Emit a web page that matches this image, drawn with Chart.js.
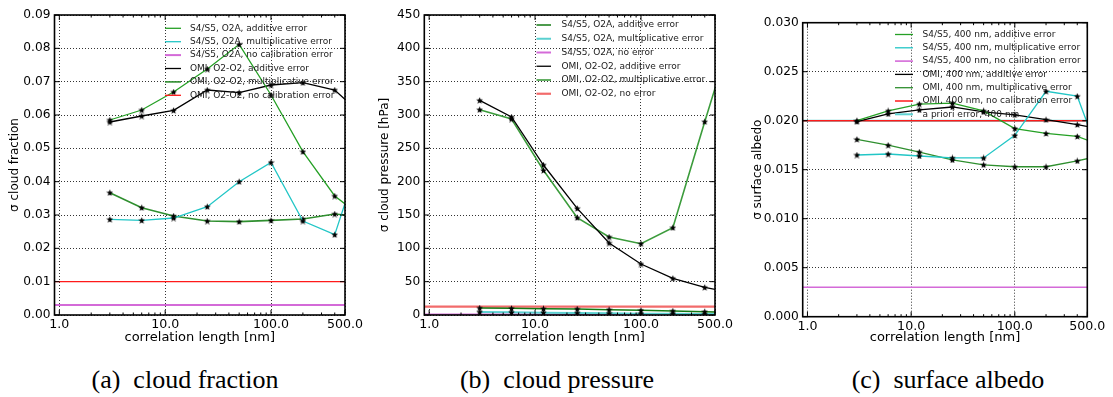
<!DOCTYPE html>
<html>
<head>
<meta charset="utf-8">
<script src="https://cdn.jsdelivr.net/npm/chart.js@4.4.1/dist/chart.umd.min.js"></script>
<style>
  html, body { margin: 0; padding: 0; background: #fff; }
  body { width: 1113px; height: 397px; position: relative; overflow: hidden; }
  canvas.panel { position: absolute; top: 0; }
  .caption {
    position: absolute; top: 365px; width: 300px; line-height: 30px;
    font-family: "Liberation Serif", "Times New Roman", serif; font-size: 26px;
    color: #000; text-align: center; white-space: pre;
  }
</style>
</head>
<body>
<canvas id="cloudFraction" class="panel" style="left:0px" width="370" height="345"></canvas>
<canvas id="cloudPressure" class="panel" style="left:370px" width="370" height="345"></canvas>
<canvas id="surfaceAlbedo" class="panel" style="left:740px" width="373" height="345"></canvas>
<div class="caption" style="left:35px">(a)  cloud fraction</div>
<div class="caption" style="left:407px">(b)  cloud pressure</div>
<div class="caption" style="left:798px">(c)  surface albedo</div>
<script>
// correlation lengths [nm] used in the retrieval runs (last one lies past the axis end)
const corrLength = [3, 6, 12, 25, 50, 100, 200, 400, 800];
// x-span of the constant "no error" levels
const levelSpan = [0.5, 1000];
const xTicks = [1, 10, 100, 500];

// (a) cloud fraction
const cfTicks = [0, 0.01, 0.02, 0.03, 0.04, 0.05, 0.06, 0.07, 0.08, 0.09];
const cfS5Additive = [0.0585, 0.0615, 0.0669, 0.0738, 0.0812, 0.0660, 0.0490, 0.0357, 0.0283];
const cfS5Multiplicative = [0.0287, 0.0284, 0.0291, 0.0325, 0.0400, 0.0458, 0.0282, 0.0241, 0.0533];
const cfS5NoCal = [0.003, 0.003];
const cfOmiAdditive = [0.0579, 0.0597, 0.0614, 0.0675, 0.0667, 0.0690, 0.0697, 0.0675, 0.0588];
const cfOmiMultiplicative = [0.0367, 0.0322, 0.0297, 0.0282, 0.0280, 0.0284, 0.0288, 0.0303, 0.0294];
const cfOmiNoCal = [0.01, 0.01];

// (b) cloud pressure [hPa]
const cpTicks = [0, 50, 100, 150, 200, 250, 300, 350, 400, 450];
const cpS5Additive = [10.5, 10, 9.5, 9, 8, 7, 6, 5, 3.5];
const cpS5Multiplicative = [4.5, 4, 3.5, 3, 2.5, 2, 2, 1.5, 1.3];
const cpS5NoError = [0.6, 0.6];
const cpOmiAdditive = [322, 297, 225, 160, 108, 76.5, 55, 41.5, 32];
const cpOmiMultiplicative = [308, 294, 217, 146, 117, 107, 131, 290, 445];
const cpOmiNoError = [12.5, 12.5];

// (c) surface albedo
const saTicks = [0, 0.005, 0.01, 0.015, 0.02, 0.025, 0.03];
const saS5Additive = [0.0200, 0.0210, 0.0217, 0.0218, 0.0210, 0.0192, 0.0187, 0.0184, 0.0172];
const saS5Multiplicative = [0.0165, 0.0166, 0.0164, 0.0162, 0.0162, 0.0185, 0.0230, 0.0225, 0.0139];
const saS5NoCal = [0.003, 0.003];
const saOmiAdditive = [0.0199, 0.0207, 0.0211, 0.0214, 0.0209, 0.0206, 0.0201, 0.0196, 0.0190];
const saOmiMultiplicative = [0.0181, 0.0175, 0.0168, 0.0160, 0.0155, 0.0153, 0.0153, 0.0159, 0.0166];
const saOmiNoCal = [0.02, 0.02];
const saApriori = [0.02, 0.02];

const FONT = '"DejaVu Sans", Verdana, sans-serif';

/**
 * Small filled 5-point star, used as point marker (like matplotlib '*')
 */
function makeStar(size) {
    const c = document.createElement('canvas');
    c.width = c.height = size;
    const g = c.getContext('2d');
    const r1 = size / 2, r2 = r1 * 0.45;
    g.beginPath();
    for (let k = 0; k < 10; k++) {
        const r = k % 2 ? r2 : r1;
        const ang = -Math.PI / 2 + k * Math.PI / 5;
        g.lineTo(r1 + r * Math.cos(ang), r1 + 0.3 + r * Math.sin(ang));
    }
    g.closePath();
    g.fillStyle = '#000';
    g.fill();
    return c;
}
const star = makeStar(7);

function pts(values, xs) {
    return values.map((v, i) => ({ x: xs[i], y: v }));
}

function curve(label, values, color, width) {
    return {
        label, data: pts(values, corrLength),
        borderColor: color, backgroundColor: color, borderWidth: width || 1.3,
        showLine: true, tension: 0, pointStyle: star, pointRadius: 3.5
    };
}

function level(label, values, color, width) {
    return {
        label, data: pts(values, levelSpan),
        borderColor: color, backgroundColor: color, borderWidth: width || 1.3,
        showLine: true, tension: 0, pointRadius: 0
    };
}

/**
 * Box around the plot with inward ticks (major on all sides, minor on log x)
 */
const framePlugin = {
    id: 'frame',
    afterDraw(chart, args, opts) {
        const { ctx, chartArea: a, scales: { x, y } } = chart;
        ctx.save();
        ctx.strokeStyle = '#000';
        ctx.lineWidth = 1;
        ctx.beginPath();
        xTicks.forEach(v => {
            const px = x.getPixelForValue(v);
            ctx.moveTo(px, a.bottom); ctx.lineTo(px, a.bottom - 5);
            ctx.moveTo(px, a.top); ctx.lineTo(px, a.top + 5);
        });
        [1, 10, 100].forEach(d => {
            for (let m = 2; m <= 9; m++) {
                const v = m * d;
                if (v >= x.max) continue;
                const px = x.getPixelForValue(v);
                ctx.moveTo(px, a.bottom); ctx.lineTo(px, a.bottom - 2.5);
                ctx.moveTo(px, a.top); ctx.lineTo(px, a.top + 2.5);
            }
        });
        opts.yTicks.forEach(v => {
            const py = y.getPixelForValue(v);
            ctx.moveTo(a.left, py); ctx.lineTo(a.left + 5, py);
            ctx.moveTo(a.right, py); ctx.lineTo(a.right - 5, py);
        });
        ctx.stroke();
        ctx.lineWidth = 1.6;
        ctx.strokeRect(a.left, a.top, a.right - a.left, a.bottom - a.top);
        ctx.restore();
    }
};

/**
 * Frameless legend drawn inside the plot, like the matplotlib one
 */
const legendPlugin = {
    id: 'panelLegend',
    afterDatasetsDraw(chart, args, opts) {
        const ctx = chart.ctx;
        ctx.save();
        ctx.font = '9px ' + FONT;
        ctx.textBaseline = 'middle';
        chart.data.datasets.forEach((ds, i) => {
            const y = opts.top + i * opts.step;
            ctx.strokeStyle = ds.borderColor;
            ctx.lineWidth = ds.borderWidth;
            ctx.beginPath();
            ctx.moveTo(opts.lineFrom, y);
            ctx.lineTo(opts.lineTo, y);
            ctx.stroke();
            ctx.fillStyle = '#1a1a1a';
            ctx.fillText(ds.label, opts.textX, y);
        });
        ctx.restore();
    }
};

function makeOptions(cfg) {
    return {
        responsive: false,
        animation: false,
        devicePixelRatio: 1,
        layout: { padding: { left: 0, top: cfg.top, right: cfg.right, bottom: 0 } },
        plugins: {
            legend: { display: false },
            tooltip: { enabled: false },
            panelLegend: cfg.legend,
            frame: { yTicks: cfg.yTicks }
        },
        scales: {
            x: {
                type: 'logarithmic',
                min: 0.9,
                max: 500,
                afterBuildTicks: s => { s.ticks = xTicks.map(v => ({ value: v })); },
                afterFit: s => { s.height = cfg.xHeight; },
                ticks: {
                    callback: v => Number(v).toFixed(1),
                    color: '#000', font: { family: FONT, size: 12.6 },
                    padding: 2, maxRotation: 0, autoSkip: false
                },
                grid: { color: 'rgba(0,0,0,0.8)', lineWidth: 1, drawTicks: false },
                border: { display: false, dash: [1, 2] },
                title: {
                    display: true, text: 'correlation length [nm]', color: '#000',
                    font: { family: FONT, size: 13 }, padding: 0
                }
            },
            y: {
                type: 'linear',
                min: cfg.yTicks[0],
                max: cfg.yTicks[cfg.yTicks.length - 1],
                afterBuildTicks: s => { s.ticks = cfg.yTicks.map(v => ({ value: v })); },
                afterFit: s => { s.width = cfg.yWidth; },
                ticks: {
                    callback: v => Number(v).toFixed(cfg.digits),
                    color: '#000', font: { family: FONT, size: 12.2 }, padding: 4
                },
                grid: { color: 'rgba(0,0,0,0.8)', lineWidth: 1, drawTicks: false },
                border: { display: false, dash: [1, 2] },
                title: {
                    display: true, text: cfg.yTitle, color: '#000',
                    font: { family: FONT, size: 12 }, padding: { top: cfg.yTitlePad, bottom: 0 }
                }
            }
        }
    };
}

const GREEN = '#25a025';
const GREEN2 = '#2f8f2f';
const CYAN = '#22c6c6';
const MAGENTA = '#d46ad8';
const RED = '#ff1a1a';

new Chart(document.getElementById('cloudFraction'), {
    type: 'scatter',
    data: {
        datasets: [
            curve('S4/S5, O2A, additive error', cfS5Additive, GREEN),
            curve('S4/S5, O2A, multiplicative error', cfS5Multiplicative, CYAN),
            level('S4/S5, O2A, no calibration error', cfS5NoCal, MAGENTA, 2),
            curve('OMI, O2-O2, additive error', cfOmiAdditive, '#000'),
            curve('OMI, O2-O2, multiplicative error', cfOmiMultiplicative, GREEN2, 1.6),
            level('OMI, O2-O2, no calibration error', cfOmiNoCal, RED, 1.3)
        ]
    },
    options: makeOptions({
        top: 15, right: 25, xHeight: 30, yWidth: 54.5, yTitlePad: 7.8, digits: 2,
        yTicks: cfTicks, yTitle: 'σ cloud fraction',
        legend: { top: 28.3, step: 13.4, lineFrom: 165, lineTo: 181, textX: 190 }
    }),
    plugins: [legendPlugin, framePlugin]
});

new Chart(document.getElementById('cloudPressure'), {
    type: 'scatter',
    data: {
        datasets: [
            curve('S4/S5, O2A, additive error', cpS5Additive, '#137a13', 1.5),
            curve('S4/S5, O2A, multiplicative error', cpS5Multiplicative, '#5ad0d0', 2),
            level('S4/S5, O2A, no error', cpS5NoError, MAGENTA, 2),
            curve('OMI, O2-O2, additive error', cpOmiAdditive, '#000'),
            curve('OMI, O2-O2, multiplicative error', cpOmiMultiplicative, '#3c9c3c', 1.6),
            level('OMI, O2-O2, no error', cpOmiNoError, '#f26b6b', 2.2)
        ]
    },
    options: makeOptions({
        top: 15, right: 25, xHeight: 30, yWidth: 54.3, yTitlePad: 7.8, digits: 0,
        yTicks: cpTicks, yTitle: 'σ cloud pressure [hPa]',
        legend: { top: 25, step: 13.75, lineFrom: 166.5, lineTo: 181, textX: 191.5 }
    }),
    plugins: [legendPlugin, framePlugin]
});

new Chart(document.getElementById('surfaceAlbedo'), {
    type: 'scatter',
    data: {
        datasets: [
            curve('S4/S5, 400 nm, additive error', saS5Additive, GREEN),
            curve('S4/S5, 400 nm, multiplicative error', saS5Multiplicative, CYAN),
            level('S4/S5, 400 nm, no calibration error', saS5NoCal, MAGENTA, 1.6),
            curve('OMI, 400 nm, additive error', saOmiAdditive, '#000'),
            curve('OMI, 400 nm, multiplicative error', saOmiMultiplicative, GREEN2),
            level('OMI, 400 nm, no calibration error', saOmiNoCal, RED, 1.5),
            level('a priori error, 400 nm', saApriori, '#5fd3d3', 2)
        ]
    },
    options: makeOptions({
        top: 22.7, right: 25.7, xHeight: 28.3, yWidth: 62.7, yTitlePad: 10.8, digits: 3,
        yTicks: saTicks, yTitle: 'σ surface albedo',
        legend: { top: 34.5, step: 13.3, lineFrom: 155, lineTo: 173, textX: 182.5 }
    }),
    plugins: [legendPlugin, framePlugin]
});
</script>
</body>
</html>
